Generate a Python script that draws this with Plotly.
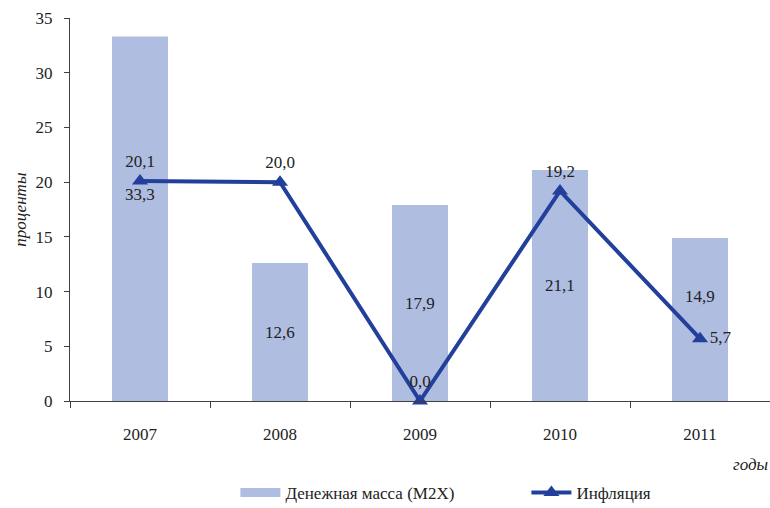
import plotly.graph_objects as go

# Data
years = ["2007", "2008", "2009", "2010", "2011"]
money_supply = [33.3, 12.6, 17.9, 21.1, 14.9]   # Денежная масса (M2X), %
inflation = [20.1, 20.0, 0.0, 19.2, 5.7]        # Инфляция, %

FONT = "Liberation Serif"
FS = 17
TXT = "#222222"
BAR_COLOR = "#AFBDE0"
LINE_COLOR = "#22409B"

def fmt(v):
    return f"{v:.1f}".replace(".", ",")

fig = go.Figure()

fig.add_trace(go.Bar(
    x=years, y=money_supply, name="Денежная масса (M2X)",
    marker=dict(color=BAR_COLOR, line=dict(width=0)),
    width=0.4, showlegend=False,
))

# wide swatch for the bar series in the legend
fig.add_trace(go.Scatter(
    x=[None], y=[None], mode="lines", name="Денежная масса (M2X)",
    line=dict(color=BAR_COLOR, width=9),
))

# label placement for the line: above, except the last point
line_pos = ["top center", "top center", "top center", "top center", "middle right"]
fig.add_trace(go.Scatter(
    x=years, y=inflation, name="Инфляция",
    mode="lines+markers+text",
    line=dict(color=LINE_COLOR, width=4),
    marker=dict(symbol="triangle-up", size=14, color=LINE_COLOR),
    text=[fmt(v) for v in inflation],
    textposition=line_pos,
    textfont=dict(family=FONT, size=FS, color=TXT),
    cliponaxis=False,
))

# bar value labels, roughly centred in each bar (some nudged up);
# x is given as the category index
bar_shift = [24, 0, 0, 0, 23]
for i, (v, s) in enumerate(zip(money_supply, bar_shift)):
    fig.add_annotation(
        x=i, y=v / 2, text=fmt(v), showarrow=False, yshift=s,
        font=dict(family=FONT, size=FS, color=TXT),
    )

fig.add_annotation(
    xref="paper", yref="paper", x=-0.071, y=0.5, text="<i>проценты</i>",
    xanchor="center", yanchor="middle",
    textangle=-90, showarrow=False,
    font=dict(family=FONT, size=FS, color=TXT),
)
fig.add_annotation(
    xref="paper", yref="paper", x=1.0, y=-0.167, xanchor="right", yanchor="middle",
    text="<i>годы</i>", showarrow=False,
    font=dict(family=FONT, size=FS, color=TXT),
)

fig.update_layout(
    width=770, height=508,
    margin=dict(l=70, r=0, t=18, b=107, autoexpand=False),
    paper_bgcolor="white", plot_bgcolor="white",
    font=dict(family=FONT, size=FS, color=TXT),
    showlegend=True,
    legend=dict(
        orientation="h", x=0.652, xanchor="center", y=-0.240, yanchor="middle",
        font=dict(family=FONT, size=FS, color=TXT),
        itemwidth=40, tracegroupgap=0,
        entrywidth=236, entrywidthmode="pixels",
    ),
    xaxis=dict(
        type="category", categoryorder="array", categoryarray=years,
        range=[-0.5, len(years) - 0.5],
        showline=True, linecolor="#404040", linewidth=1,
        ticks="outside", ticklen=6, tickcolor="#404040", tickson="boundaries",
        showgrid=False, ticklabelstandoff=18,
        tickfont=dict(family=FONT, size=FS, color=TXT),
    ),
    yaxis=dict(
        range=[0, 35], dtick=5, showline=True, linecolor="#404040", linewidth=1,
        ticks="outside", ticklen=5, tickcolor="#404040",
        showgrid=False, zeroline=False, ticklabelstandoff=8,
        tickfont=dict(family=FONT, size=FS, color=TXT),
    ),
)

fig.write_html("out.html")
